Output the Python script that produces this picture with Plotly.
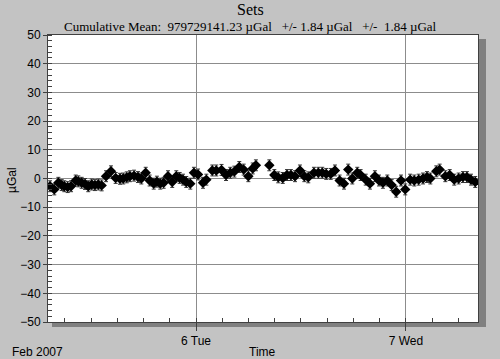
import plotly.graph_objects as go

times = [
    "2007-02-05 07:19", "2007-02-05 07:48", "2007-02-05 08:16", "2007-02-05 08:39",
    "2007-02-05 08:57", "2007-02-05 09:20", "2007-02-05 09:43", "2007-02-05 10:15",
    "2007-02-05 10:33", "2007-02-05 10:56", "2007-02-05 11:19", "2007-02-05 11:41",
    "2007-02-05 12:05", "2007-02-05 12:27", "2007-02-05 12:50", "2007-02-05 13:13",
    "2007-02-05 13:43", "2007-02-05 14:17", "2007-02-05 14:49", "2007-02-05 15:19",
    "2007-02-05 15:41", "2007-02-05 16:05", "2007-02-05 16:27", "2007-02-05 16:55",
    "2007-02-05 17:22", "2007-02-05 17:45", "2007-02-05 18:15", "2007-02-05 18:42",
    "2007-02-05 19:10", "2007-02-05 19:32", "2007-02-05 19:55", "2007-02-05 20:18",
    "2007-02-05 20:48", "2007-02-05 21:17", "2007-02-05 21:45", "2007-02-05 22:08",
    "2007-02-05 22:31", "2007-02-05 22:53", "2007-02-05 23:21", "2007-02-05 23:46",
    "2007-02-06 00:14", "2007-02-06 00:48", "2007-02-06 01:11", "2007-02-06 01:52",
    "2007-02-06 02:19", "2007-02-06 02:55", "2007-02-06 03:26", "2007-02-06 03:55",
    "2007-02-06 04:23", "2007-02-06 04:57", "2007-02-06 05:27", "2007-02-06 05:59",
    "2007-02-06 06:29", "2007-02-06 06:51",
    "2007-02-06 08:23", "2007-02-06 08:57", "2007-02-06 09:24", "2007-02-06 09:55",
    "2007-02-06 10:24", "2007-02-06 10:51", "2007-02-06 11:19", "2007-02-06 11:53",
    "2007-02-06 12:23", "2007-02-06 12:50", "2007-02-06 13:29", "2007-02-06 13:59",
    "2007-02-06 14:26", "2007-02-06 14:53", "2007-02-06 15:24", "2007-02-06 15:53",
    "2007-02-06 16:25", "2007-02-06 16:55", "2007-02-06 17:24", "2007-02-06 17:52",
    "2007-02-06 18:26", "2007-02-06 18:49", "2007-02-06 19:24", "2007-02-06 19:53",
    "2007-02-06 20:27", "2007-02-06 20:55", "2007-02-06 21:22", "2007-02-06 21:52",
    "2007-02-06 22:22", "2007-02-06 22:53", "2007-02-06 23:26", "2007-02-06 23:55",
    "2007-02-07 00:29", "2007-02-07 00:57", "2007-02-07 01:27", "2007-02-07 01:57",
    "2007-02-07 02:24", "2007-02-07 02:47", "2007-02-07 03:28", "2007-02-07 03:51",
    "2007-02-07 04:30", "2007-02-07 05:00", "2007-02-07 05:31", "2007-02-07 06:01",
    "2007-02-07 06:31", "2007-02-07 06:58", "2007-02-07 07:26", "2007-02-07 07:55",
]

values = [
    -2.7, -3.8, -1.5, -2.3, -2.7, -3.0, -2.7, -0.7,
    -1.0, -1.5, -1.9, -2.7, -2.1, -2.3, -2.1, -2.4,
    0.8, 2.5, 0.2, -0.1, 0.0, 0.4, 0.8, 1.0,
    0.5, 0.0, 2.0, -0.7, -1.8, -1.1, -1.8, -1.5,
    0.8, -1.2, 0.8, 0.2, -0.4, -1.2, -1.8, 2.0,
    1.4, -1.5, -0.4, 2.8, 2.8, 3.0, 1.2, 2.0,
    2.4, 4.0, 3.1, 0.8, 3.5, 4.6,
    4.6, 1.2, 0.4, 0.2, 1.2, 1.2, 0.8, 2.8,
    0.8, 0.4, 2.0, 2.0, 2.0, 1.6, 1.6, 2.8,
    -0.7, -1.8, 3.1, 0.0, 2.0, 1.2, -0.4, -1.8,
    0.8, -0.7, -1.5, -0.7, -2.3, -4.6, -0.7, -3.8,
    -0.4, -0.7, -0.4, 0.0, 0.5, 0.0, 2.5, 3.1,
    0.8, 1.2, -0.4, 0.0, 0.5, 0.5, -0.4, -1.2,
]

uncertainty = 1.9

title_text = "Sets"
subtitle_text = "Cumulative Mean:  979729141.23 µGal   +/- 1.84 µGal   +/-  1.84 µGal"
x_range = ["2007-02-05 07:05", "2007-02-07 08:14"]
y_range = [-50, 50]
day_ticks = ["2007-02-06", "2007-02-07"]
day_labels = ["6 Tue", "7 Wed"]

W, H = 500, 359
L, R, T, B = 48, 22, 35, 37
PW, PH = W - L - R, H - T - B


def px_x(x):
    return (x - L) / PW


def px_y(y):
    return (H - B - y) / PH


fig = go.Figure()
fig.add_trace(go.Scatter(
    x=times, y=values, mode="markers",
    marker=dict(symbol="diamond", size=8, color="black"),
    error_y=dict(type="constant", value=uncertainty, color="#333333",
                 thickness=1, width=2),
    showlegend=False,
))

grid_color = "#8c8c8c"
tick_font = dict(family="Liberation Sans, Arial, sans-serif", size=12, color="black")
serif = "Liberation Serif, Times New Roman, serif"

fig.update_layout(
    width=W, height=H,
    margin=dict(l=L, r=R, t=T, b=B, autoexpand=False),
    paper_bgcolor="#c3c3c3",
    plot_bgcolor="white",
    xaxis=dict(
        range=x_range, type="date", automargin=False,
        tickvals=day_ticks, ticktext=day_labels,
        ticks="outside", ticklen=8, tickcolor="#404040",
        showgrid=True, gridcolor=grid_color, gridwidth=1,
        showline=True, linecolor="#404040", mirror=True,
        tickfont=tick_font, zeroline=False,
        minor=dict(dtick=3 * 3600 * 1000, tick0="2007-02-05", ticks="inside",
                   ticklen=4, tickcolor="#404040", showgrid=False),
    ),
    yaxis=dict(
        range=y_range, dtick=10, tick0=0, automargin=False,
        ticks="outside", ticklen=4, tickcolor="#404040",
        showgrid=True, gridcolor=grid_color, gridwidth=1,
        showline=True, linecolor="#404040", mirror=True,
        zeroline=True, zerolinecolor=grid_color, zerolinewidth=1,
        tickfont=tick_font,
        minor=dict(dtick=2, ticks="inside", ticklen=4, tickcolor="#404040",
                   showgrid=False),
    ),
    font=dict(family="Liberation Sans, Arial, sans-serif"),
)

# Title and subtitle
fig.add_annotation(text=title_text, xref="paper", yref="paper",
                   x=px_x(250), y=px_y(9), xanchor="center", yanchor="middle",
                   showarrow=False, font=dict(family=serif, size=16, color="black"))
fig.add_annotation(text=subtitle_text, xref="paper", yref="paper",
                   x=px_x(250), y=px_y(26), xanchor="center", yanchor="middle",
                   showarrow=False, font=dict(family=serif, size=13, color="black"))
# Axis titles / date annotation
fig.add_annotation(text="Feb 2007", xref="paper", yref="paper",
                   x=px_x(10), y=px_y(352), xanchor="left", yanchor="middle",
                   showarrow=False, font=tick_font)
fig.add_annotation(text="Time", xref="paper", yref="paper",
                   x=px_x(262), y=px_y(352), xanchor="center", yanchor="middle",
                   showarrow=False, font=tick_font)
fig.add_annotation(text="µGal", xref="paper", yref="paper", textangle=-90,
                   x=px_x(12), y=px_y(180), xanchor="center", yanchor="middle",
                   showarrow=False, font=tick_font)

# Drop shadow right and bottom
fig.add_shape(type="rect", xref="paper", yref="paper", layer="below",
              x0=1, x1=px_x(486), y0=px_y(327), y1=px_y(39),
              fillcolor="#808080", line=dict(width=0))
fig.add_shape(type="rect", xref="paper", yref="paper", layer="below",
              x0=px_x(52), x1=px_x(486), y0=px_y(327), y1=0,
              fillcolor="#808080", line=dict(width=0))

fig.write_html("out.html",
               config={"displayModeBar": False},
               post_script="document.body.style.margin='0';document.body.style.background='#c3c3c3';")
